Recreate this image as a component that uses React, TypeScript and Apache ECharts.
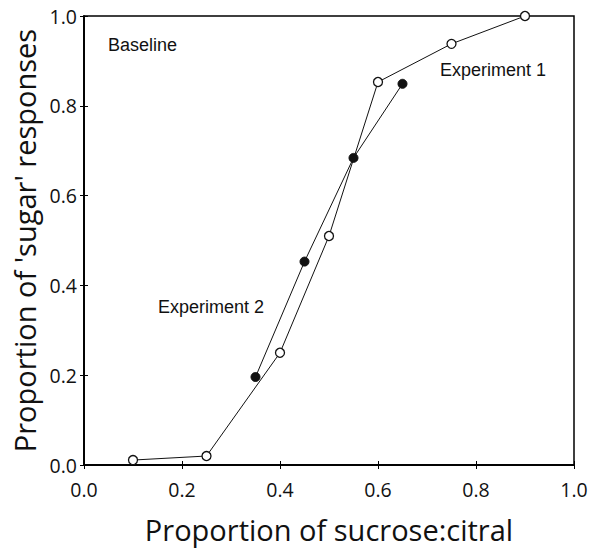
import React, { useEffect, useRef } from "react";
import * as echarts from "echarts";

const xTicks = [0, 0.2, 0.4, 0.6, 0.8, 1.0];
const yTicks = [0, 0.2, 0.4, 0.6, 0.8, 1.0];

// Experiment 1 / baseline series (open circles)
const openX = [0.1, 0.25, 0.4, 0.5, 0.6, 0.75, 0.9];
const openY = [0.011, 0.02, 0.25, 0.51, 0.853, 0.938, 1.0];

// Experiment 2 series (filled circles)
const filledX = [0.35, 0.45, 0.55, 0.65];
const filledY = [0.196, 0.453, 0.684, 0.849];

const xName = "Proportion of sucrose:citral";
const yName = "Proportion of 'sugar' responses";

export default function App() {
  const ref = useRef<HTMLDivElement>(null);
  useEffect(() => {
    document.body.style.margin = "0";
    if (!ref.current) return;
    const chart = echarts.init(ref.current, null, { renderer: "svg" });
    const tickFont = "Open Sans";
    const axisCommon = {
      type: "value",
      min: xTicks[0],
      max: xTicks[xTicks.length - 1],
      interval: 0.2,
      splitLine: { show: false },
    };
    chart.setOption({
      animation: false,
      backgroundColor: "#ffffff",
      grid: {
        left: 84,
        right: 19,
        top: 16,
        bottom: 83,
        show: true,
        borderColor: "#000",
        borderWidth: 1.5,
        backgroundColor: "transparent",
      },
      xAxis: [
        {
          ...axisCommon,
          position: "bottom",
          name: xName,
          nameLocation: "middle",
          nameGap: 50,
          nameTextStyle: { fontFamily: tickFont, fontSize: 29, color: "#111" },
          axisLine: { show: true, lineStyle: { color: "#000", width: 1.5 } },
          axisTick: { show: true, inside: true, length: 4, lineStyle: { color: "#000" } },
          axisLabel: {
            fontFamily: tickFont,
            fontSize: 19.5,
            color: "#111",
            margin: 14,
            formatter: (v: number) => v.toFixed(1),
          },
        },
        {
          ...axisCommon,
          position: "top",
          axisLine: { show: true, lineStyle: { color: "#000", width: 1.5 } },
          axisTick: { show: true, inside: true, length: 4, lineStyle: { color: "#000" } },
          axisLabel: { show: false },
        },
      ],
      yAxis: [
        {
          ...axisCommon,
          min: yTicks[0],
          max: yTicks[yTicks.length - 1],
          position: "left",
          name: yName,
          nameLocation: "middle",
          nameGap: 42,
          nameTextStyle: { fontFamily: tickFont, fontSize: 29, color: "#111" },
          axisLine: { show: true, lineStyle: { color: "#000", width: 1.5 } },
          axisTick: { show: true, inside: true, length: 4, lineStyle: { color: "#000" } },
          axisLabel: {
            fontFamily: tickFont,
            fontSize: 19.5,
            color: "#111",
            margin: 7,
            formatter: (v: number) => v.toFixed(1),
          },
        },
        {
          ...axisCommon,
          min: yTicks[0],
          max: yTicks[yTicks.length - 1],
          position: "right",
          axisLine: { show: true, lineStyle: { color: "#000", width: 1.5 } },
          axisTick: { show: true, inside: true, length: 4, lineStyle: { color: "#000" } },
          axisLabel: { show: false },
        },
      ],
      series: [
        {
          type: "line",
          name: "Experiment 1",
          data: openX.map((x, i) => [x, openY[i]]),
          symbol: "circle",
          symbolSize: 9,
          lineStyle: { color: "#111", width: 1 },
          itemStyle: { color: "#fff", borderColor: "#111", borderWidth: 1.3 },
          z: 3,
        },
        {
          type: "line",
          name: "Experiment 2",
          data: filledX.map((x, i) => [x, filledY[i]]),
          symbol: "circle",
          symbolSize: 9,
          lineStyle: { color: "#111", width: 1 },
          itemStyle: { color: "#111", borderColor: "#111", borderWidth: 1 },
          z: 4,
        },
      ],
      graphic: [
        {
          type: "text",
          left: 108,
          top: 36,
          style: { text: "Baseline", fontFamily: "Liberation Sans", fontSize: 18, fill: "#111" },
        },
        {
          type: "text",
          left: 440,
          top: 61,
          style: { text: "Experiment 1", fontFamily: "Liberation Sans", fontSize: 18, fill: "#111" },
        },
        {
          type: "text",
          left: 158,
          top: 298,
          style: { text: "Experiment 2", fontFamily: "Liberation Sans", fontSize: 18, fill: "#111" },
        },
      ],
    });
    return () => chart.dispose();
  }, []);
  return <div ref={ref} style={{ width: 593, height: 549 }} />;
}
